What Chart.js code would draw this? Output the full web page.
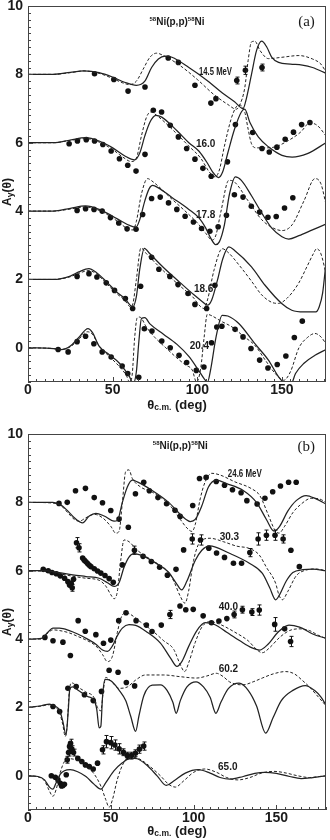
<!DOCTYPE html>
<html>
<head>
<meta charset="utf-8">
<script src="https://cdn.jsdelivr.net/npm/chart.js@4/dist/chart.umd.min.js"></script>
<style>
  body { margin: 0; background: #fff; }
  canvas { display: block; }
</style>
</head>
<body>
<canvas id="panel-a" width="330" height="418"></canvas>
<canvas id="panel-b" width="330" height="422"></canvas>
<script>
// Ay(theta) for 58Ni(p,p)58Ni, each energy shifted up by 2 units.
// Points are [theta_cm, Ay] as plotted, data points may carry a 3rd value = error.
var xTicks = [0, 50, 100, 150];
var yTicks = [0, 2, 4, 6, 8, 10];

// ---------- panel (a) ----------
var energiesA = ['14.5 MeV', '16.0', '17.8', '18.6', '20.4'];

var solid145 = [[0,8],[15,8],[25,8.06],[33,8.1],[42,8.05],[50,7.92],[57,7.77],[64,7.68],[69,7.8],[73,8.2],[77,8.45],[81,8.53],[85,8.5],[95,8.2],[105,7.85],[115,7.45],[122,7.2],[127,7.0],[129,7.3],[132,8.0],[135,8.7],[138,8.97],[141,8.8],[144,8.5],[148,8.35],[155,8.3],[162,8.27],[168,8.2],[176,8.03]];
var dashed145 = [[0,8],[15,8],[25,8.05],[33,8.1],[42,8.03],[50,7.88],[56,7.75],[60,7.7],[64,7.8],[68,8.15],[72,8.5],[76,8.62],[80,8.55],[90,8.25],[100,7.85],[110,7.4],[118,7.12],[123,6.98],[125,7.1],[128,7.6],[130,8.4],[132,8.95],[134,8.97],[137,8.7],[142,8.46],[150,8.5],[160,8.55],[168,8.45],[173,8.3],[176,8.07]];
var data145 = [[39.3,8.02],[50.7,7.85],[59.1,7.51],[69.1,7.63],[82.8,8.48],[88.8,8.35],[98.6,7.68],[108,7.16],[111,7.29],[123.3,7.82,0.1],[128.4,8.12,0.12],[138.2,8.2,0.1]];

var solid160 = [[0,6],[15,6],[25,6.08],[34,6.15],[42,6.05],[50,5.85],[57,5.62],[63,5.5],[66,5.7],[69,6.2],[72,6.6],[75.5,6.8],[79,6.75],[88,6.35],[95,6.0],[101,5.75],[106,5.4],[109,5.15],[112.5,4.98],[115,5.15],[118,5.7],[122,6.4],[126,6.9],[128,6.98],[131,6.6],[136,6.17],[142,5.88],[150,5.63],[156,5.58],[165,5.68],[176,6.0]];
var dashed160 = [[0,6],[15,6],[25,6.07],[34,6.12],[42,6.02],[50,5.8],[56,5.58],[61,5.45],[64,5.55],[67,6.2],[70,6.75],[72.5,6.9],[76,6.8],[85,6.4],[95,5.9],[102,5.55],[107,5.15],[110.5,5.0],[113,5.2],[116,5.9],[120,6.7],[123,7.05],[125,7.1],[128,6.9],[130,6.4],[132,5.97],[135,5.85],[140,5.85],[146,5.88],[154,6.07],[161,6.31],[166.5,6.58],[171,6.5],[176,6.2]];
var data160 = [[24.3,5.97],[29.2,6.05],[34.4,6.09],[39.3,6.05],[44.2,5.95],[49.1,5.76],[54,5.53],[58.9,5.34],[63.8,5.17],[69.1,5.66],[74,6.95],[78.9,6.9],[84,6.51],[88.8,6.17],[93.7,5.83],[98.6,5.52],[103.3,5.25],[108.2,5.02],[117.8,5.44],[122.5,6.53],[132.7,6.3],[138.2,5.83],[142.5,5.73],[147,5.87],[151.9,6.1],[156.8,6.31],[161.6,6.53],[166.5,6.59]];

var solid178 = [[0,4],[15,4],[25,4.08],[34,4.15],[42,4.05],[50,3.85],[56,3.68],[60,3.58],[63.8,3.53],[66,3.75],[69,4.3],[71.5,4.65],[73.6,4.75],[77,4.68],[85,4.4],[95,4.05],[101,3.8],[105,3.5],[108,3.2],[110.8,3.02],[113,3.1],[116,3.6],[119,4.5],[122.5,5.0],[126,4.9],[132,4.45],[138,3.95],[144,3.5],[150,3.25],[154,3.18],[160,3.28],[168,3.45],[176,3.62]];
var dashed178 = [[0,4],[15,4],[25,4.06],[34,4.12],[42,4.02],[50,3.8],[56,3.58],[60,3.45],[62,3.45],[64,3.7],[67,4.5],[70.6,4.95],[74,4.85],[85,4.35],[95,3.9],[101,3.6],[105,3.35],[108.8,3.15],[111,3.3],[114,4.0],[118.6,4.9],[122,4.85],[130,4.3],[138,3.75],[145,3.5],[150,3.43],[156,3.6],[163,4.3],[169.5,4.95],[173,4.8],[176,4.2]];
var data178 = [[29,4.02],[34,4.07],[39,4.05],[43.8,4.0],[48.7,3.81],[53.6,3.65],[58.5,3.48],[63.8,3.47],[67.7,3.9],[73,4.37],[78.1,4.41],[83,4.24],[87.9,4.05],[92.8,3.85],[97.7,3.68],[102.5,3.49],[107.4,3.41],[112.3,3.54],[117.2,3.88],[121.9,4.48],[127,4.41],[131.9,4.14],[136.8,3.97],[141.7,3.82],[146.6,3.84],[151.5,4.09],[156.4,4.39]];

var solid186 = [[0,2],[15,2],[25,2.1],[30,2.22],[36,2.32],[40,2.22],[46,1.95],[52,1.65],[57,1.45],[61.8,1.2],[64,1.5],[66,2.3],[68.7,2.91],[72,2.75],[80,2.35],[90,1.9],[98,1.55],[103,1.35],[106,1.25],[108.5,1.4],[112,2.0],[115,2.6],[118.6,2.95],[122,2.85],[132,2.37],[140,1.83],[150,1.29],[155.8,1.1],[163,1.05],[170,1.05],[172,1.2],[174,1.6],[176,2.5]];
var dashed186 = [[0,2],[15,2],[25,2.08],[30,2.18],[36,2.26],[40,2.18],[46,1.9],[52,1.6],[57,1.4],[60.5,1.2],[62,1.3],[64,2.0],[66.7,2.92],[70,2.75],[80,2.25],[90,1.8],[98,1.45],[101,1.25],[103.9,1.15],[106,1.4],[110,2.3],[114.7,2.9],[118,2.8],[125,2.4],[132,1.95],[138,1.55],[144,1.33],[148,1.3],[153,1.45],[159.7,1.88],[165,2.4],[168.5,2.75],[170.5,2.9],[173,2.75],[176,2.17]];
var data186 = [[29,2.09],[36,2.17],[40.7,2.07],[46.2,1.9],[51.1,1.68],[57.5,1.44],[61.8,1.15],[66.5,1.8],[73,2.65],[77.3,2.3],[83.8,2.09],[88.6,1.85],[94.5,1.59],[98.6,1.27],[105.5,1.15],[110.4,1.83]];

var solid204 = [[0,0],[15,-0.02],[20,-0.05],[25,0.05],[30,0.3],[35.4,0.56],[38,0.45],[42,0.05],[48,-0.2],[54,-0.45],[58,-0.7],[60,-0.85],[62,-1.05],[64,-0.7],[65.5,0.2],[67,0.86],[69,0.88],[72,0.7],[80,0.4],[88,0.1],[95,-0.25],[100,-0.6],[104,-0.9],[106,-1.0],[108,-0.6],[111,0.3],[114.7,0.95],[118,0.93],[124.5,0.71],[134,0.12],[142,-0.36],[148,-0.85],[152,-1.05],[155,-1.1],[158,-0.75],[163,-0.45],[169.5,-0.22],[176,-0.05]];
var dashed204 = [[0,0],[15,-0.02],[20,-0.05],[25,0.03],[30,0.25],[35,0.47],[38,0.4],[42,0.05],[48,-0.25],[54,-0.55],[58,-0.8],[60,-1.0],[61.5,-0.8],[63,0.3],[64.5,0.88],[66,0.9],[70,0.6],[75,0.3],[81.4,0.0],[88,-0.3],[93,-0.5],[97,-0.65],[99.5,-1.0],[102,-0.6],[104,0.3],[105.9,0.98],[108,0.95],[114,0.78],[120.5,0.61],[127,0.35],[134.2,0.06],[140,-0.35],[146,-0.75],[151,-0.95],[155,-0.7],[160,0.0],[165,0.3],[169.5,0.42],[173,0.32],[176,0.12]];
var data204 = [[17.8,-0.05],[23.7,-0.12],[29,0.18],[34,0.34],[38.9,0.12],[43.8,-0.12],[49.1,-0.27],[55.6,-0.53],[58.9,-0.75],[65.4,-0.86],[68.7,0.56],[73.2,0.49],[79,0.2],[84,0.0],[89.2,-0.22],[93.7,-0.43],[99.4,-0.66],[103.9,-0.56],[108.4,0.15],[111.5,0.61],[114.5,0.63],[122.3,0.54],[127,0.32],[131.7,-0.02],[136.8,-0.36],[141.7,-0.59],[147.2,-0.49],[152.3,-0.24],[157.3,0.3],[162,0.78]];

// ---------- panel (b) ----------
var energiesB = ['24.6 MeV', '30.3', '40.0', '60.2', '65.0'];

var solid246 = [[0,8],[15,8.0],[20,7.92],[24,7.75],[28,7.55],[33,7.4],[37,7.6],[41,7.68],[46,7.6],[52,7.45],[54,7.47],[57,8.0],[60,8.45],[63,8.65],[66,8.6],[75,8.35],[85,8.0],[93,7.6],[98,7.44],[101,7.5],[105,7.9],[109,8.45],[113.7,8.65],[120,8.55],[130,8.35],[138,8.0],[144,7.5],[148.6,7.16],[152,7.3],[157,7.75],[162,8.05],[168,8.2],[174,8.1],[180,7.95]];
var dashed246 = [[0,8],[15,7.98],[20,7.9],[24,7.7],[28,7.5],[31,7.45],[35,7.55],[40,7.65],[45,7.55],[50,7.3],[53,7.1],[55,7.15],[57,8.0],[59,8.9],[61,8.95],[63,8.7],[68,8.45],[75,8.3],[85,7.95],[92,7.5],[96,7.25],[99,7.15],[101,7.35],[104,8.1],[107,8.6],[111,8.85],[116,8.8],[125,8.6],[135,8.4],[140,8.2],[145,7.65],[149,7.2],[151.6,7.1],[155,7.3],[160,7.7],[165,7.95],[171,8.12],[176,8.1],[180,8.0]];
var data246 = [[18.7,7.97],[23.7,8.0],[28.7,8.34],[34.7,8.41],[40,8.14],[45,7.99],[50,7.76],[55,7.51],[60.6,7.27],[64.9,8.25],[69.9,8.59],[73.3,8.34],[78.5,8.14],[83.7,7.96],[88.8,7.77],[91.9,7.59],[99.5,7.91],[103.6,8.7],[107.6,8.73],[113.7,8.61],[118.7,8.5],[123.5,8.37],[128.7,8.28],[132.2,8.05],[138.4,7.95],[143.1,8.12],[147.8,8.31],[152.5,8.48],[157.4,8.59],[162,8.59]];

var solid303 = [[0,6],[10,6.0],[18,5.95],[27,5.88],[35,5.83],[43,5.78],[48,5.65],[52,5.54],[55,5.65],[58,6.1],[61,6.4],[64,6.5],[70,6.42],[78,6.2],[85,5.95],[90,5.6],[92.8,5.44],[96,5.7],[101,6.3],[105,6.6],[109.6,6.73],[121.7,6.51],[133.7,6.22],[141.6,5.92],[146,5.5],[149.6,5.15],[152,5.3],[156,5.7],[160,5.95],[166,6.03],[172,6.05],[180,6.0]];
var dashed303 = [[0,6],[10,5.98],[18,5.92],[27,5.84],[35,5.78],[43,5.72],[47,5.55],[50,5.3],[52,5.18],[54,5.4],[56,6.3],[58,6.9],[61,6.85],[66,6.6],[75,6.3],[85,5.95],[88,5.7],[92,5.25],[94.8,5.05],[97,5.4],[100,6.3],[104,6.85],[110,6.95],[118,6.85],[126,6.72],[133.8,6.65],[139.7,6.46],[144,6.1],[149.6,5.63],[151.5,5.3],[153.6,5.15],[157,5.4],[162,5.85],[168,6.02],[174,6.05],[180,6.0]];
var data303 = [[9.2,6.04],[12.2,6.0],[14.5,5.95],[17.1,5.91],[19.5,5.85],[22.1,5.78],[24.1,5.68],[25.1,5.58],[26.1,5.63],[26.7,5.5,0.1],[27.5,5.75],[29.3,6.82,0.15],[30.8,6.67,0.12],[33,6.37],[34,6.31],[35,6.26],[36,6.21],[37,6.16],[38,6.12],[40,6.06],[42,5.99],[44,5.93],[46.5,5.86],[49,5.77],[51.5,5.66],[57,6.17],[64.3,6.6,0.12],[69.5,6.42],[74.5,6.27],[79.5,6.1],[84.2,5.87],[89.4,6.04],[94,6.61],[99.2,6.93,0.15],[104.2,6.9,0.15],[109.2,6.66],[113.9,6.52],[118.7,6.39],[124.1,6.22],[129,6.22],[134,6.53,0.12],[139,6.93,0.18],[144,7.04,0.15],[149.2,7.04,0.15],[154.1,6.93,0.12],[158.8,6.6],[163.9,6.12]];

var solid400 = [[0,4],[8,4.02],[12,4.2],[15,4.32],[19,4.32],[25,4.25],[30,4.15],[36,4.0],[41,3.85],[45,3.68],[48,3.64],[51,3.8],[54,4.1],[57,4.32],[61,4.42],[65,4.4],[72,4.2],[80,3.88],[86,3.45],[90,3.2],[93,3.35],[97,3.78],[102,4.25],[107,4.48],[113,4.42],[120,4.2],[128,3.95],[135,3.75],[140,3.68],[145,3.85],[151,4.2],[157.6,4.41],[164,4.35],[172,4.15],[180,4.02]];
var dashed400 = [[0,4],[8,4.0],[12,4.18],[15,4.27],[19,4.25],[25,4.18],[30,4.08],[36,3.95],[41,3.8],[45,3.55],[48,3.34],[51,3.5],[54,4.2],[56,4.6],[59,4.78],[62,4.72],[68,4.5],[75,4.25],[82,3.95],[88,3.7],[92,3.25],[94.6,3.05],[97,3.3],[101,3.9],[105,4.35],[109.8,4.51],[115,4.45],[125,4.2],[133,3.95],[138,3.7],[141.5,3.6],[146,3.75],[152,4.05],[158,4.25],[163.6,4.3],[170,4.25],[175,4.12],[180,4.02]];
var data400 = [[10.2,4.05],[15.1,3.95],[21.1,3.91],[25.6,3.52],[30.3,4.54],[34.6,4.23],[41,4.13],[45.6,3.88],[50,3.97],[54.8,4.54],[59.2,4.77],[65.3,4.54],[71.5,4.41],[74.9,4.22],[80.5,4.41],[85.7,4.72,0.12],[91.8,4.97],[95.3,4.86],[99.8,4.87],[105.8,4.68],[110.8,4.48],[115.3,4.53],[120.1,4.6],[124.5,4.72,0.1],[129.5,4.86,0.1],[135.2,4.79,0.1],[139.7,4.85,0.15],[149,4.43,0.2],[155,4.3],[158.6,3.93,0.15]];

var solid602 = [[0,2],[8,2.05],[13,2.1],[17,2.02],[19,1.93],[21,1.6],[23,1.2],[24.3,1.9],[25.3,2.55],[27,2.6],[31,2.48],[36,2.32],[40,2.2],[41.5,1.95],[43,1.4],[44,1.45],[45,2.3],[46.5,2.82],[50,2.78],[55,2.51],[59,2.2],[62,1.75],[65,1.3],[67,1.75],[70,2.35],[75,2.65],[80,2.66],[84,2.5],[87.5,2.15],[89.5,1.83],[92,2.2],[96,2.6],[101.5,2.75],[106,2.6],[110,2.3],[113.5,1.83],[116.5,2.15],[121,2.55],[127.5,2.71],[133,2.5],[138,2.05],[143.6,1.25],[148,1.7],[153,2.2],[160,2.5],[167.5,2.64],[173,2.5],[177,2.3],[180,2.07]];
var dashed602 = [[0,2],[8,2.04],[13,2.08],[17,2.0],[19,1.85],[21,1.5],[22.5,1.15],[23.5,1.4],[25,2.5],[26.5,2.72],[30,2.6],[35,2.45],[40,2.28],[42,2.0],[44,1.9],[45.5,2.5],[47,2.88],[50,2.78],[55,2.56],[60,2.6],[65,2.8],[70.9,2.95],[82,2.95],[92,2.9],[101.8,2.86],[108,2.92],[113.7,3.0],[118,2.9],[121.7,2.75],[129.7,2.66],[136,2.75],[141.5,2.86],[148,2.98],[155.6,3.05],[161,2.98],[165.5,2.8],[170,2.6],[173.5,2.41],[180,2.05]];
var data602 = [[15.1,2.03],[19.1,1.88],[24.1,2.56],[29.1,2.61],[34.1,2.37],[39.4,2.2],[44.4,2.47],[49,3.09],[54.4,3.03],[59.4,2.73],[64.4,2.63]];

var solid650 = [[0,0],[6,-0.02],[10,-0.12],[13,-0.33],[15,-0.39],[17,-0.2],[19.5,0.05],[22,0.15],[25.5,0.18],[30,0.12],[35,-0.02],[40,-0.25],[44,-0.39],[47,-0.2],[52,0.15],[57,0.38],[62,0.52],[66,0.5],[72,0.3],[78,0.0],[83.5,-0.28],[88,-0.15],[95,0.08],[102.8,0.18],[110,0.08],[116,-0.05],[122,-0.1],[130,-0.02],[137,0.07],[143,0.1],[150,0.07],[158,-0.02],[165,-0.08],[172,-0.05],[180,0.0]];
var dashed650 = [[0,0],[6,-0.03],[10,-0.15],[13,-0.45],[15,-0.6],[17,-0.4],[19.5,0.1],[22,0.42],[25,0.5],[30,0.45],[35,0.3],[40,0.05],[44,-0.3],[47,-0.7],[49,-0.92],[51,-0.7],[54,-0.1],[58,0.4],[62,0.55],[67,0.5],[73,0.3],[80,0.0],[85,-0.25],[89,-0.33],[94,-0.15],[100,0.1],[106.8,0.2],[114,0.1],[120,-0.05],[126.7,-0.12],[134,-0.05],[141,0.08],[148.6,0.13],[156,0.08],[163,0.0],[170,-0.05],[176,-0.02],[180,0.0]];
var data650 = [[14.1,0.0],[16.5,-0.04],[18.1,-0.12],[19.5,-0.22],[20.3,-0.3],[21.1,-0.28],[22,-0.25],[23.1,0.03],[23.7,0.47,0.1],[24.5,0.68,0.1],[25.1,0.86,0.12],[25.7,0.95,0.12],[26.5,0.78,0.1],[27.5,0.68,0.1],[30.1,0.51],[32.5,0.42],[34.7,0.32],[37,0.27],[39.4,0.2],[42,0.37],[45,0.76,0.12],[47.4,1.0,0.18],[50,0.97,0.18],[52.4,0.9,0.15],[55,0.79,0.15],[57.6,0.69,0.1],[60,0.59,0.1],[62.4,0.59,0.1],[64.9,0.66,0.1],[67.3,0.78,0.12],[69.9,0.87,0.12]];

var SANS = '"Liberation Sans", Arial, sans-serif';
var INK = '#1a1a1a';

function curve(pts, dashed) {
    return {
        data: pts.map(function(p) { return {x: p[0], y: p[1]}; }),
        showLine: true,
        pointRadius: 0,
        borderColor: '#222',
        borderWidth: dashed ? 1 : 1.25,
        borderDash: dashed ? [3, 2] : [],
        cubicInterpolationMode: 'monotone',
        fill: false
    };
}

function dots(pts) {
    return {
        data: pts.map(function(p) { return {x: p[0], y: p[1], e: p[2] || 0}; }),
        showLine: false,
        pointRadius: 2.8,
        pointBackgroundColor: '#111',
        pointBorderWidth: 0,
        errorBars: true
    };
}

// a run of [text, size, shift] pieces, drawn left to right from x on baseline y
function runWidth(ctx, parts) {
    var w = 0;
    parts.forEach(function(p) { ctx.font = 'bold ' + p[1] + 'px ' + SANS; w += ctx.measureText(p[0]).width; });
    return w;
}
function drawRun(ctx, parts, x, y) {
    parts.forEach(function(p) {
        ctx.font = 'bold ' + p[1] + 'px ' + SANS;
        ctx.fillText(p[0], x, y + p[2]);
        x += ctx.measureText(p[0]).width;
    });
}

var decor = {
    id: 'decor',
    afterDatasetsDraw: function(chart, args, o) {
        var ctx = chart.ctx, a = chart.chartArea;
        var x = chart.scales.x, y = chart.scales.y;
        ctx.save();

        // error bars
        ctx.strokeStyle = '#111';
        ctx.lineWidth = 1;
        ctx.beginPath();
        chart.data.datasets.forEach(function(ds) {
            if (!ds.errorBars) return;
            ds.data.forEach(function(d) {
                if (!d.e) return;
                var px = Math.round(x.getPixelForValue(d.x)) + 0.5;
                var y1 = y.getPixelForValue(d.y + d.e), y2 = y.getPixelForValue(d.y - d.e);
                ctx.moveTo(px, y1); ctx.lineTo(px, y2);
                ctx.moveTo(px - 2, y1); ctx.lineTo(px + 2, y1);
                ctx.moveTo(px - 2, y2); ctx.lineTo(px + 2, y2);
            });
        });
        ctx.stroke();

        // frame and inward ticks
        ctx.strokeStyle = '#444';
        ctx.strokeRect(a.left + 0.5, a.top + 0.5, a.right - a.left - 1, a.bottom - a.top - 1);
        ctx.beginPath();
        for (var t = 0; t <= x.max + 0.01; t += 5) {
            var px = Math.round(x.getPixelForValue(t)) + 0.5;
            var len = t % 50 === 0 ? 5 : 3;
            ctx.moveTo(px, a.bottom); ctx.lineTo(px, a.bottom - len);
        }
        for (var i = -5; i <= 50; i++) {
            var py = Math.round(y.getPixelForValue(i / 5)) + 0.5;
            var l = i % 10 === 0 ? 5 : 3;
            ctx.moveTo(a.left, py); ctx.lineTo(a.left + l, py);
        }
        ctx.stroke();

        ctx.fillStyle = INK;
        ctx.textBaseline = 'middle';
        ctx.textAlign = 'left';

        // energy labels (the MeV ones are set narrow, as in the original)
        o.energies.forEach(function(txt, k) {
            var pos = o.labelAt[k];
            ctx.font = 'bold 10px ' + SANS;
            var lx = x.getPixelForValue(pos[0]), ly = y.getPixelForValue(pos[1]);
            if (pos[2]) ctx.fillText(txt, lx, ly, pos[2]);
            else ctx.fillText(txt, lx, ly);
        });

        // reaction
        var rx = x.getPixelForValue(o.reactionAt[0]), ry = y.getPixelForValue(o.reactionAt[1]);
        var parts = [['58', 6, -3], ['Ni(p,p)', 10, 0], ['58', 6, -3], ['Ni', 10, 0]];
        drawRun(ctx, parts, rx - runWidth(ctx, parts) / 2, ry);

        // panel tag
        ctx.font = '15px "Liberation Serif", "Times New Roman", serif';
        ctx.textAlign = 'center';
        ctx.fillText(o.tag, x.getPixelForValue(o.tagAt[0]), y.getPixelForValue(o.tagAt[1]));

        // axis titles
        ctx.textAlign = 'left';
        var xt = [['\u03b8', 13, 0], ['c.m.', 8.5, 3], [' (deg)', 13, 0]];
        drawRun(ctx, xt, (a.left + a.right) / 2 - runWidth(ctx, xt) / 2, o.xTitleY);

        var yt = [['A', 12, 0], ['y', 8.5, 3], ['(\u03b8)', 12, 0]];
        ctx.translate(8, o.yTitleY);
        ctx.rotate(-Math.PI / 2);
        drawRun(ctx, yt, -runWidth(ctx, yt) / 2, 0);
        ctx.restore();
    }
};

function makeChart(id, xMax, padTop, xHeight, datasets, extra) {
    var ctx = document.getElementById(id).getContext('2d');
    return new Chart(ctx, {
        type: 'scatter',
        data: {datasets: datasets},
        plugins: [decor],
        options: {
            responsive: false,
            animation: false,
            layout: {padding: {left: 0, right: 2, top: padTop, bottom: 0}},
            plugins: {legend: {display: false}, tooltip: {enabled: false}, decor: extra},
            scales: {
                x: {
                    type: 'linear', min: 0, max: xMax,
                    grid: {display: false, drawTicks: false}, border: {display: false},
                    ticks: {font: {family: SANS, size: 14, weight: 'bold'}, color: INK, padding: 0, maxRotation: 0},
                    afterBuildTicks: function(s) { s.ticks = xTicks.map(function(v) { return {value: v}; }); },
                    afterFit: function(s) { s.height = xHeight; s.paddingLeft = 0; s.paddingRight = 0; }
                },
                y: {
                    type: 'linear', min: -1, max: 10,
                    grid: {display: false, drawTicks: false}, border: {display: false},
                    ticks: {font: {family: SANS, size: 14, weight: 'bold'}, color: INK, padding: 5},
                    afterBuildTicks: function(s) { s.ticks = yTicks.map(function(v) { return {value: v}; }); },
                    afterFit: function(s) { s.width = 28; s.paddingTop = 0; s.paddingBottom = 0; }
                }
            }
        }
    });
}

window.onload = function() {
    makeChart('panel-a', 176, 6, 36, [
        curve(solid145), curve(dashed145, true), dots(data145),
        curve(solid160), curve(dashed160, true), dots(data160),
        curve(solid178), curve(dashed178, true), dots(data178),
        curve(solid186), curve(dashed186, true), dots(data186),
        curve(solid204), curve(dashed204, true), dots(data204)
    ], {
        energies: energiesA,
        labelAt: [[101, 8.06, 33], [99.2, 5.96], [99.2, 3.88], [98, 1.7], [95.5, 0.05]],
        reactionAt: [88, 9.52], tag: '(a)', tagAt: [164.5, 9.52],
        xTitleY: 405, yTitleY: 192
    });

    makeChart('panel-b', 180, 16, 30, [
        curve(solid246), curve(dashed246, true), dots(data246),
        curve(solid303), curve(dashed303, true), dots(data303),
        curve(solid400), curve(dashed400, true), dots(data400),
        curve(solid602), curve(dashed602, true), dots(data602),
        curve(solid650), curve(dashed650, true), dots(data650)
    ], {
        energies: energiesB,
        labelAt: [[120.7, 8.82, 34], [115.8, 6.98], [115.2, 4.93], [115.2, 3.13], [114.8, 0.25]],
        reactionAt: [92, 9.65], tag: '(b)', tagAt: [168, 9.63],
        xTitleY: 413, yTitleY: 204
    });
};
</script>
</body>
</html>
